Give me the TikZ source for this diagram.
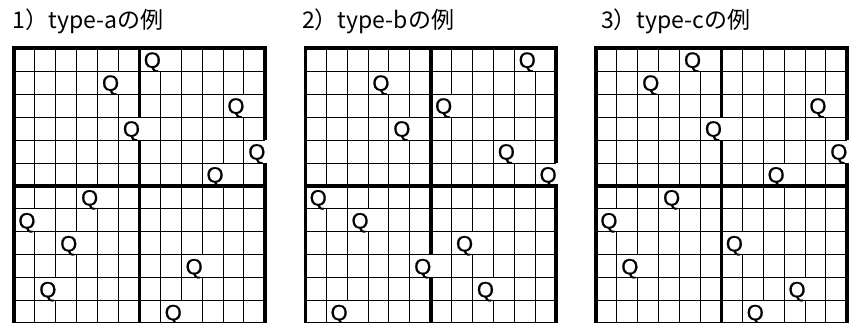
\documentclass[tikz,border=0pt]{standalone}
\usepackage{fontspec}
\usepackage{tikz}
\newfontfamily\jpfont{Noto Sans CJK JP}
\newfontfamily\qfont[FakeBold=0.8]{Liberation Sans}

\begin{document}
\begin{tikzpicture}[x=1pt, y=-1pt,
            thinline/.style={line width=1pt, black},
            thickline/.style={line width=3.6pt, black},
            boardtitle/.style={anchor=base west, inner sep=0pt, font=\jpfont\fontsize{23}{23}\selectfont},
            queen/.style={anchor=base, inner sep=0pt, font=\qfont\fontsize{22}{22}\selectfont}
        ]
            \useasboundingbox (0,0) rectangle (850,323);
            \def\cw{20.9}
            \def\ch{22.95}
            \def\gtop{48.3}

            \node[boardtitle] (titlea) at (12.5,28.5) {1）type-aの例};
            \node[boardtitle] (titleb) at (302,28.5) {2）type-bの例};
            \node[boardtitle] (titlec) at (601,28.5) {3）type-cの例};

            \foreach \gx/\gname/\perm in {14/a/{6,4,10,5,11,9,3,0,2,8,1,7}, 305.3/b/{10,3,6,4,9,11,0,2,7,5,8,1}, 596/c/{4,2,10,5,11,8,3,0,6,1,9,7}} {
                % thin grid
                \foreach \j in {0,...,12}
                    \draw[thinline] (\gx,\gtop+\j*\ch) -- ++(12*\cw,0);
                \foreach \q [count=\r from 0] in \perm {
                    \pgfmathtruncatemacro\gap{\q+1}
                    \foreach \k in {0,...,12} {
                        \ifnum\k=\gap\relax\else
                            \draw[thinline] (\gx+\k*\cw,\gtop+\r*\ch) -- ++(0,\ch);
                        \fi
                    }
                }
                % thick block lines
                \foreach \j in {0,6,12}
                    \draw[thickline, line cap=rect] (\gx,\gtop+\j*\ch) -- ++(12*\cw,0);
                \foreach \q [count=\r from 0] in \perm {
                    \pgfmathtruncatemacro\gap{\q+1}
                    \foreach \k in {0,6,12} {
                        \ifnum\k=\gap\relax\else
                            \draw[thickline] (\gx+\k*\cw,\gtop+\r*\ch) -- ++(0,\ch);
                        \fi
                    }
                    \node[queen] (q\gname\r) at (\gx+\q*\cw+0.5*\cw+2.5,\gtop+\r*\ch+\ch-3.5) {Q};
                }
            }
        \end{tikzpicture}
\end{document}
